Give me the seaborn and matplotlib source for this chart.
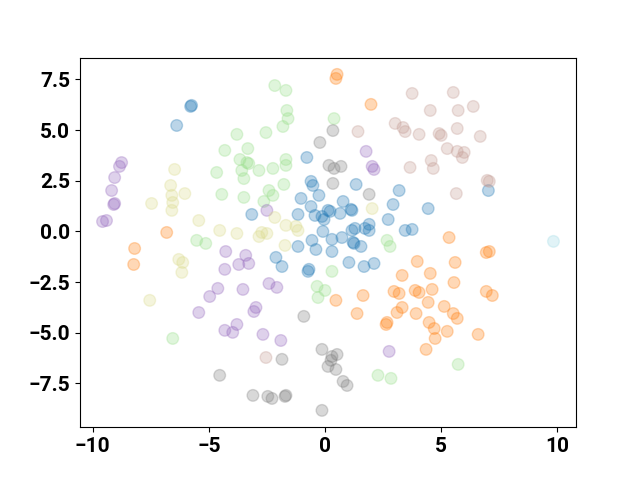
import matplotlib
matplotlib.use("Agg")
import matplotlib.pyplot as plt
import numpy as np
import pandas as pd
import seaborn as sns


# cluster -> (x, y) points
blue_x = [-5.78, -5.74, -6.38, -0.78, -0.60, -0.52, -0.26, -1.03, -0.60, -1.16, -0.43, -0.13,
          -0.04, 0.13, -3.15, -0.09, -0.56, -0.39, -1.16, 0.30, 0.30, -2.11, -1.85, -0.69,
          -0.73, 1.34, 3.19, 0.78, 2.93, 4.44, 0.22, 0.65, 1.12, 1.16, 2.72, 1.90, 1.72, 1.90,
          1.29, 1.16, 3.45, 3.75, 0.73, 1.21, 1.55, 1.25, 1.03, 1.68, 2.11, 7.03]
blue_y = [6.17, 6.22, 5.23, 3.65, 2.47, 2.27, 1.78, 1.63, 1.23, 0.84, 0.79, 0.74,
          0.59, 1.04, 0.84, 0.00, -0.44, -0.89, -0.74, -0.39, -0.99, -1.28, -1.73, -1.87,
          -1.97, 2.32, 2.02, 1.48, 1.33, 1.13, 0.99, 0.89, 1.09, 1.04, 0.59, 0.35, 0.15, 0.05,
          0.15, 0.05, 0.05, 0.10, -0.30, -0.54, -0.74, -0.59, -1.53, -1.73, -1.58, 2.02]

orange_x = [0.52, 0.47, 1.98, -6.81, -8.19, -8.23, 5.34, 6.94, 7.07, 5.60, 5.55, 6.94,
            7.20, 3.97, 4.53, 3.32, 2.97, 3.19, 3.88, 4.05, 4.61, 1.64, 0.47, 4.44,
            5.13, 5.52, 5.69, 3.10, 3.32, 3.92, 1.38, 2.67, 2.63, 4.48, 4.70, 5.26,
            4.74, 4.35, 6.59]
orange_y = [7.75, 7.55, 6.27, -0.05, -0.84, -1.63, -0.30, -1.04, -0.99, -1.53, -2.52, -2.96,
            -3.16, -1.48, -2.07, -2.17, -2.96, -3.06, -2.91, -3.01, -2.86, -3.16, -3.40, -3.50,
            -3.70, -4.05, -4.29, -4.00, -3.75, -4.05, -4.05, -4.49, -4.59, -4.49, -4.79, -4.93,
            -5.28, -5.82, -5.08]

green_x = [-2.16, -1.68, -1.64, -1.59, -1.81, -2.54, -3.79, -4.31, -3.32, -3.66, -3.36, -3.28,
           -1.68, -1.68, -2.24, -2.84, -3.58, -4.66, -3.49, -1.77, 0.39, -4.44, -3.49, -2.41,
           -2.24, -2.63, -5.52, -5.13, 0.30, -0.34, 0.00, -0.30, 2.67, 2.80, -6.55, 2.28,
           2.84, 5.73]
green_y = [7.20, 6.96, 5.97, 5.57, 5.18, 4.88, 4.79, 4.00, 4.09, 3.55, 3.40, 3.35,
           3.55, 3.26, 3.11, 3.01, 3.01, 2.91, 2.61, 2.32, 5.57, 1.83, 1.68, 2.02,
           1.78, 1.48, -0.44, -0.59, -1.97, -2.71, -2.91, -3.26, -0.44, -0.74, -5.28, -7.10,
           -7.25, -6.56]

purple_x = [-8.75, -8.84, -9.05, -9.18, -9.09, -9.05, -9.57, -9.40, -4.96, -5.43, -4.27, -3.41,
            -3.71, -3.28, -4.31, -4.61, -3.53, -2.41, -2.07, -2.50, -2.97, -3.06, -3.79, -4.31,
            -3.97, -2.67, -1.90, 1.77, 2.03, 2.11, 2.76]
purple_y = [3.40, 3.21, 2.66, 2.02, 1.33, 1.38, 0.49, 0.54, -3.21, -4.00, -0.99, -1.18,
            -1.63, -1.58, -1.87, -2.81, -2.86, -2.57, -2.76, 1.04, -3.75, -3.95, -4.59, -4.88,
            -4.98, -5.08, -5.38, 3.95, 3.21, 3.06, -5.92]

brown_x = [3.75, 5.52, 4.53, 5.73, 6.38, 1.42, 3.02, 3.36, 3.45, 4.05, 4.91, 5.00,
           5.69, 6.68, 5.26, 5.69, 5.99, 5.91, 4.57, 4.66, 3.66, 6.98, 7.07, 5.65, -2.54]
brown_y = [6.81, 6.86, 5.97, 5.97, 6.17, 4.93, 5.33, 5.13, 4.93, 4.79, 4.83, 4.74,
           5.08, 4.69, 4.09, 3.95, 3.90, 3.65, 3.50, 3.11, 3.16, 2.52, 2.47, 1.87, -6.22]

gray_x = [0.34, -0.22, 0.17, 0.39, 0.69, 0.34, 1.90, -0.91, -0.13, 0.30, 0.26, 0.13,
          0.52, 0.47, 0.78, 0.95, -1.85, -4.53, -3.10, -2.46, -2.28, -1.72, -1.68, -0.13]
gray_y = [4.98, 4.39, 3.26, 3.11, 3.21, 2.37, 1.83, -4.19, -5.82, -6.17, -6.36, -6.66,
          -6.07, -6.81, -7.40, -7.60, -6.31, -7.10, -8.09, -8.14, -8.24, -8.14, -8.09, -8.83]

olive_x = [-6.47, -6.64, -6.59, -6.03, -7.46, -6.55, -6.59, -5.43, -6.29, -6.12, -6.16, -7.54,
           -4.53, -3.79, -2.72, -2.84, -2.50, -2.16, -1.68, -1.25, -1.16, -1.72, 2.03]
olive_y = [3.06, 2.27, 1.78, 1.87, 1.38, 1.43, 1.04, 0.54, -1.38, -1.53, -2.02, -3.40,
           0.05, -0.10, -0.05, -0.25, -0.10, 0.69, 0.30, 0.25, 0.05, -0.69, 1.13]

cyan_x = [9.83]
cyan_y = [-0.49]

# cluster labels 0..7 coloured through tab20
groups = [
    (blue_x, blue_y), (orange_x, orange_y), (green_x, green_y), (purple_x, purple_y),
    (brown_x, brown_y), (gray_x, gray_y), (olive_x, olive_y), (cyan_x, cyan_y),
]

df = pd.concat(
    [pd.DataFrame({"x": xs, "y": ys, "cluster": k}) for k, (xs, ys) in enumerate(groups)],
    ignore_index=True,
)

cmap = plt.get_cmap("tab20")
n = len(groups) - 1
palette = {k: cmap(k / n) for k in range(len(groups))}

plt.rcParams["font.family"] = ["Roboto", "DejaVu Sans"]
plt.rcParams["font.weight"] = "bold"

fig, ax = plt.subplots(figsize=(6.4, 4.8), dpi=100)
sns.scatterplot(
    data=df, x="x", y="y", hue="cluster",
    palette=palette, alpha=0.3, s=70,
    edgecolor="face", linewidth=1, legend=False, ax=ax,
)
ax.set_xlabel("")
ax.set_ylabel("")
ax.tick_params(labelsize=15)
for lab in ax.get_xticklabels() + ax.get_yticklabels():
    lab.set_fontweight("bold")

plt.savefig("out.png", dpi=100)
